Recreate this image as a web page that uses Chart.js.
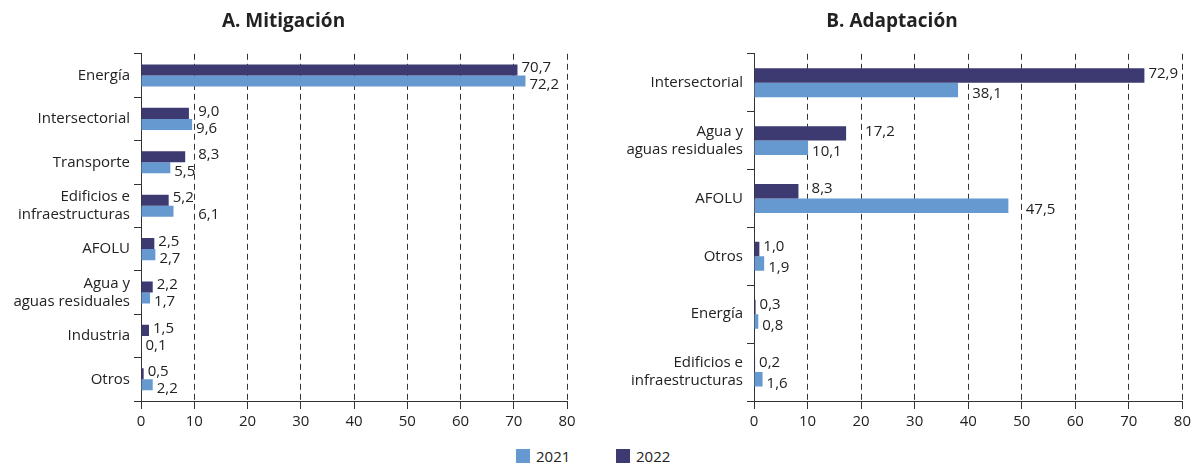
<!DOCTYPE html>
<html>
<head>
<meta charset="utf-8">
<script src="https://cdn.jsdelivr.net/npm/chart.js@4"></script>
<style>
body{margin:0;background:#fff;font-family:"Open Sans",sans-serif;color:#222;}
#wrap{position:relative;width:1195px;height:466px;}
.box{position:absolute;top:0;height:440px;}
.leg{position:absolute;top:447px;font-size:15px;line-height:18px;display:flex;align-items:center;}
.sw{width:14px;height:14px;margin-right:6px;display:inline-block;}
</style>
</head>
<body>
<div id="wrap">
  <div class="box" style="left:0;width:597px"><canvas id="grafico1"></canvas></div>
  <div class="box" style="left:597px;width:598px"><canvas id="grafico2"></canvas></div>
  <div class="leg" style="left:516px"><span class="sw" style="background:#6699d0"></span>2021</div>
  <div class="leg" style="left:616px"><span class="sw" style="background:#3c3a70"></span>2022</div>
</div>
<script>
// categorias e valores
const catMit = ['Energía', 'Intersectorial', 'Transporte', ['Edificios e', 'infraestructuras'], 'AFOLU', ['Agua y', 'aguas residuales'], 'Industria', 'Otros'];
const mit2021 = [72.2, 9.6, 5.5, 6.1, 2.7, 1.7, 0.1, 2.2];
const mit2022 = [70.7, 9.0, 8.3, 5.2, 2.5, 2.2, 1.5, 0.5];

const catAda = ['Intersectorial', ['Agua y', 'aguas residuales'], 'AFOLU', 'Otros', 'Energía', ['Edificios e', 'infraestructuras']];
const ada2021 = [38.1, 10.1, 47.5, 1.9, 0.8, 1.6];
const ada2022 = [72.9, 17.2, 8.3, 1.0, 0.3, 0.2];

const xMin = 0, xMax = 80, xStep = 10;

const corClaro = '#6699d0';
const corEscuro = '#3c3a70';
const fonte = '"Open Sans", sans-serif';

// rotulos no fim das barras (pulam a linha tracejada se encostam nela)
const rotulos = {
  id: 'rotulos',
  afterDatasetsDraw(chart) {
    const ctx = chart.ctx;
    const sx = chart.scales.x;
    const linhas = sx.ticks.map(t => sx.getPixelForValue(t.value));
    ctx.save();
    ctx.font = '15px ' + fonte;
    ctx.fillStyle = '#222';
    ctx.textBaseline = 'middle';
    ctx.textAlign = 'left';
    chart.data.datasets.forEach((ds, i) => {
      chart.getDatasetMeta(i).data.forEach((bar, j) => {
        const txt = ds.data[j].toFixed(1).replace('.', ',');
        const w = ctx.measureText(txt).width;
        let x = bar.x + 4;
        for (const lx of linhas) {
          if (lx > x - 1 && lx < x + w - 2) x = lx + 4;
        }
        const dy = i === 0 ? -2 : 4;
        ctx.fillText(txt, x, bar.y + dy);
      });
    });
    ctx.restore();
  }
};

function grafico(el, titulo, labels, d2022, d2021, larguraY, padDireita, catPct) {
  return new Chart(el, {
    type: 'bar',
    data: {
      labels: labels,
      datasets: [
        { label: '2022', data: d2022, backgroundColor: corEscuro, categoryPercentage: catPct, barPercentage: 1 },
        { label: '2021', data: d2021, backgroundColor: corClaro, categoryPercentage: catPct, barPercentage: 1 }
      ]
    },
    plugins: [rotulos],
    options: {
      indexAxis: 'y',
      responsive: true,
      maintainAspectRatio: false,
      animation: false,
      layout: { padding: { left: 0, right: padDireita, top: 0, bottom: 0 } },
      plugins: {
        legend: { display: false },
        tooltip: { enabled: false },
        title: {
          display: true,
          text: titulo,
          color: '#222',
          font: { family: fonte, size: 19, weight: 'bold' },
          padding: { top: 10, bottom: 21 }
        }
      },
      scales: {
        x: {
          min: xMin, max: xMax,
          ticks: { stepSize: xStep, color: '#222', font: { family: fonte, size: 15 }, padding: 4 },
          grid: { color: '#333', lineWidth: 1, tickLength: 8, tickColor: '#333' },
          border: { color: '#333', dash: [6, 4] },
          afterFit: s => { s.height = 39; }
        },
        y: {
          ticks: { color: '#222', font: { family: fonte, size: 15, lineHeight: 1.2 }, padding: 4 },
          grid: { drawOnChartArea: false, tickLength: 7, color: '#333', offset: true },
          border: { color: '#333' },
          afterFit: s => { s.width = larguraY; }
        }
      }
    }
  });
}

grafico(document.getElementById('grafico1'), 'A. Mitigación', catMit, mit2022, mit2021, 141, 30, 0.51);
grafico(document.getElementById('grafico2'), 'B. Adaptación', catAda, ada2022, ada2021, 157, 8, 0.5);
</script>
</body>
</html>
